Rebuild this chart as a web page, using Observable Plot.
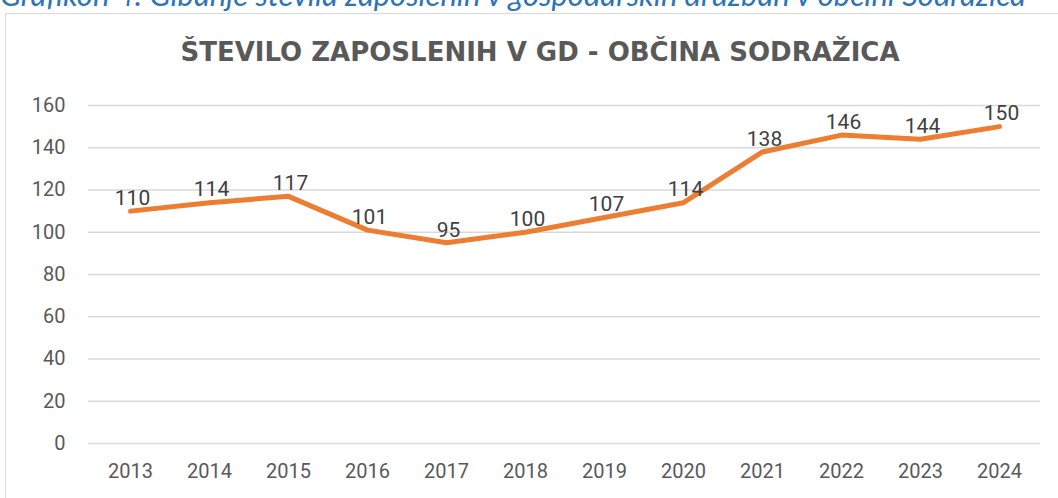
<!DOCTYPE html>
<html>
<head>
<meta charset="utf-8">
<script src="https://cdn.jsdelivr.net/npm/d3@7"></script>
<script src="https://cdn.jsdelivr.net/npm/@observablehq/plot@0.6"></script>
<style>
  html, body { margin: 0; padding: 0; background: #fff; }
  #wrap { position: relative; width: 1058px; height: 498px; overflow: hidden; background: #fff; }
  #caption { position: absolute; left: 0; top: -22px; white-space: nowrap; font-family: Lato, "Open Sans", sans-serif; font-style: italic; font-size: 31px; color: #2E74B5; line-height: 32px; }
  #frame { position: absolute; left: 5px; top: 13px; width: 1200px; height: 600px; border: 1.5px solid #d9d9d9; box-sizing: border-box; }
  #title { position: absolute; left: 0; width: 1080px; top: 37px; text-align: center; font-family: "DejaVu Sans", Roboto, sans-serif; font-weight: bold; font-size: 26px; color: #595959; }
  #chart { position: absolute; left: 0; top: 0; }
</style>
</head>
<body>
<div id="wrap">
  <div id="caption">Grafikon 4: Gibanje števila zaposlenih v gospodarskih družbah v občini Sodražica</div>
  <div id="frame"></div>
  <div id="title">ŠTEVILO ZAPOSLENIH V GD - OBČINA SODRAŽICA</div>
  <div id="chart"></div>
</div>
<script>
const years = ["2013","2014","2015","2016","2017","2018","2019","2020","2021","2022","2023","2024"];
const values = [110, 114, 117, 101, 95, 100, 107, 114, 138, 146, 144, 150];
const yTicks = [0, 20, 40, 60, 80, 100, 120, 140, 160];

const data = years.map((y, i) => ({year: y, value: values[i]}));

const plot = Plot.plot({
  width: 1058,
  height: 498,
  marginLeft: 88,
  marginRight: 18,
  marginTop: 105,
  marginBottom: 55,
  style: {fontFamily: "Roboto, 'Liberation Sans', sans-serif", fontSize: "20px", color: "#595959", background: "transparent"},
  x: {type: "point", domain: years, padding: 0.5, label: null, tickSize: 0, tickPadding: 20},
  y: {domain: [0, 160], ticks: yTicks, label: null, tickSize: 0, tickPadding: 23},
  marks: [
    Plot.gridY(yTicks, {stroke: "#d9d9d9", strokeOpacity: 1, strokeWidth: 1.5}),
    Plot.line(data, {x: "year", y: "value", stroke: "#ED7D31", strokeWidth: 5, strokeLinecap: "round", strokeLinejoin: "round"}),
    Plot.text(data, {x: "year", y: "value", text: d => String(d.value), dy: -13, dx: 2, fill: "#404040", fontSize: 21})
  ]
});
document.getElementById("chart").appendChild(plot);
</script>
</body>
</html>
